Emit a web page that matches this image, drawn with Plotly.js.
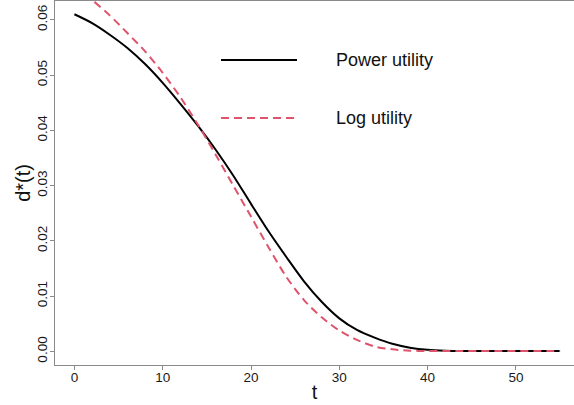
<!DOCTYPE html>
<html>
<head>
<meta charset="utf-8">
<script src="https://cdn.plot.ly/plotly-3.0.1.min.js"></script>
<style>html,body{margin:0;padding:0;background:#fff;}#chart{width:574px;height:405px;}</style>
</head>
<body>
<div id="chart"></div>
<script>
// time grid
const t = [0,2,4,6,8,10,12,14,16,18,20,22,24,26,28,30,32,34,36,38,40,42,44,46,48,50,52,54,55];
// d*(t) under power utility (solid black)
const powerUtility = [0.0610,0.0594,0.0573,0.0549,0.0520,0.0486,0.0448,0.0408,0.0365,0.0318,0.0267,0.0217,0.0171,0.0127,0.0090,0.0060,0.0039,0.0025,0.0014,0.0007,0.0003,0.00015,0.0001,0.0001,0.0001,0.0001,0.0001,0.0001,0.0001];
// d*(t) under log utility (dashed red)
const logUtility = [0.0662,0.0636,0.0608,0.0576,0.0543,0.0504,0.0460,0.0410,0.0356,0.0300,0.0244,0.0188,0.0135,0.0093,0.0062,0.0038,0.0021,0.0009,0.0004,0.00015,0.0001,0.0001,0.0001,0.0001,0.0001,0.0001,0.0001,0.0001,0.0001];
const seriesNames = ["Power utility", "Log utility"];
const xTicks = [0,10,20,30,40,50];
const yTicks = [0,0.01,0.02,0.03,0.04,0.05,0.06];
const yTickText = ["0.00","0.01","0.02","0.03","0.04","0.05","0.06"];

const font = "Liberation Sans, Arial, sans-serif";
const axisCol = "#8a8a8a";
const red = "#DF536B";

const traces = [
  {x: t, y: powerUtility, name: seriesNames[0], mode: "lines",
   line: {color: "#000000", width: 2, shape: "spline", smoothing: 0.8}},
  {x: t, y: logUtility, name: seriesNames[1], mode: "lines",
   line: {color: red, width: 2, dash: "8px,5px", shape: "spline", smoothing: 0.8}}
];

const legX0 = 0.3199, legX1 = 0.4663, legTextX = 0.5376;
const legY = [0.8379, 0.6786];

const layout = {
  width: 574, height: 405,
  margin: {l: 55, r: 0, t: 1, b: 40, pad: 0},
  paper_bgcolor: "#ffffff", plot_bgcolor: "#ffffff",
  showlegend: false,
  font: {family: font, color: "#1a1a1a", size: 13},
  xaxis: {
    range: [-2.2, 56.58], tickvals: xTicks, ticktext: xTicks.map(String),
    showgrid: false, zeroline: false, showline: true, linecolor: axisCol, linewidth: 1,
    mirror: true, ticks: "outside", ticklen: 4, tickcolor: axisCol, tickwidth: 1,
    ticklabelstandoff: -4,
    tickfont: {family: font, size: 13.5, color: "#1a1a1a"},
    title: {text: "t", font: {family: font, size: 20, color: "#111"}, standoff: 0}
  },
  yaxis: {
    range: [-0.00244, 0.0634], tickvals: yTicks, ticktext: yTickText, tickangle: -90,
    showgrid: false, zeroline: false, showline: true, linecolor: axisCol, linewidth: 1,
    mirror: false, ticks: "outside", ticklen: 4, tickcolor: axisCol, tickwidth: 1,
    ticklabelstandoff: -2,
    tickfont: {family: font, size: 13.5, color: "#1a1a1a"}
  },
  shapes: [
    {type: "line", xref: "paper", yref: "paper", x0: legX0, x1: legX1, y0: legY[0], y1: legY[0],
     line: {color: "#000", width: 2}},
    {type: "line", xref: "paper", yref: "paper", x0: legX0, x1: legX1, y0: legY[1], y1: legY[1],
     line: {color: red, width: 2, dash: "8px,5px"}}
  ],
  annotations: [
    {xref: "paper", yref: "paper", x: legTextX, y: legY[0], xanchor: "left", yanchor: "middle",
     text: seriesNames[0], showarrow: false, font: {family: font, size: 18, color: "#111"}},
    {xref: "paper", yref: "paper", x: legTextX, y: legY[1], xanchor: "left", yanchor: "middle",
     text: seriesNames[1], showarrow: false, font: {family: font, size: 18, color: "#111"}},
    {xref: "paper", yref: "paper", x: -0.062, y: 0.5, xanchor: "center", yanchor: "middle",
     textangle: -90, text: "d*(t)", showarrow: false, font: {family: font, size: 20, color: "#111"}}
  ]
};

Plotly.newPlot("chart", traces, layout, {displayModeBar: false, staticPlot: true});
</script>
</body>
</html>
